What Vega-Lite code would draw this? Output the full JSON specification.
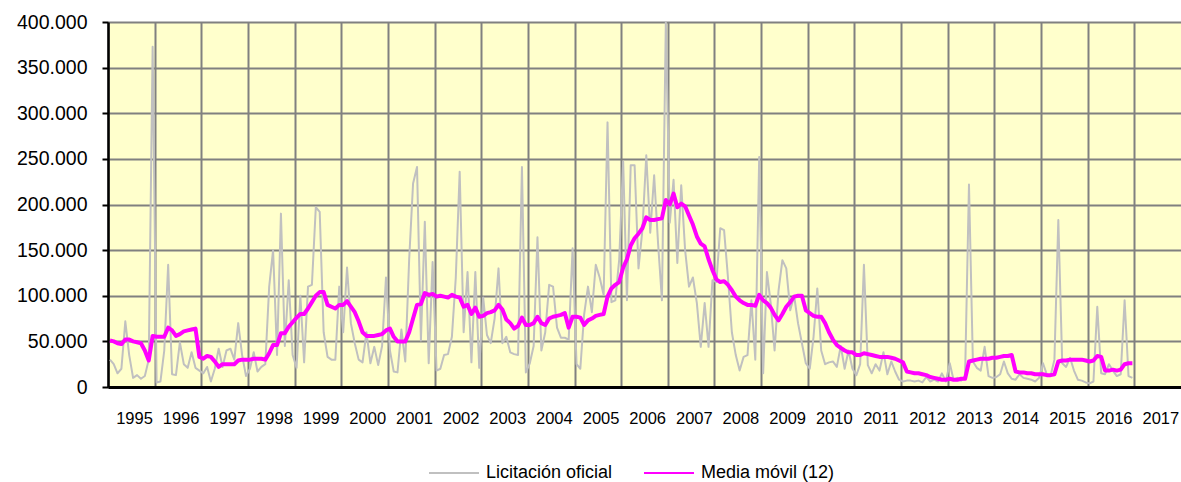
{
  "$schema": "https://vega.github.io/schema/vega-lite/v6.json",
  "width": 1073,
  "height": 365,
  "autosize": {"type": "none"},
  "padding": {"left": 108, "top": 22, "right": 0, "bottom": 95},
  "background": "white",
  "config": {
    "font": "Liberation Sans",
    "view": {"fill": "#FFFFCC", "stroke": null},
    "axis": {"gridColor": "#808080", "gridWidth": 2, "gridOpacity": 1, "labelColor": "#000000", "labelFont": "Liberation Sans"},
    "legend": {"labelFont": "Liberation Sans", "labelColor": "#000000", "symbolStrokeWidth": 2}
  },
  "data": {"values": [
    {"f":"1995-01","Licitación oficial":30000,"Media móvil (12)":51000},
    {"f":"1995-02","Licitación oficial":25000,"Media móvil (12)":50000},
    {"f":"1995-03","Licitación oficial":15000,"Media móvil (12)":48000},
    {"f":"1995-04","Licitación oficial":20000,"Media móvil (12)":47000},
    {"f":"1995-05","Licitación oficial":72000,"Media móvil (12)":52000},
    {"f":"1995-06","Licitación oficial":35000,"Media móvil (12)":52000},
    {"f":"1995-07","Licitación oficial":10000,"Media móvil (12)":50000},
    {"f":"1995-08","Licitación oficial":13000,"Media móvil (12)":49000},
    {"f":"1995-09","Licitación oficial":9000,"Media móvil (12)":48000},
    {"f":"1995-10","Licitación oficial":12000,"Media móvil (12)":40000},
    {"f":"1995-11","Licitación oficial":30000,"Media móvil (12)":29000},
    {"f":"1995-12","Licitación oficial":373000,"Media móvil (12)":56000},
    {"f":"1996-01","Licitación oficial":5000,"Media móvil (12)":55000},
    {"f":"1996-02","Licitación oficial":6000,"Media móvil (12)":55000},
    {"f":"1996-03","Licitación oficial":40000,"Media móvil (12)":55000},
    {"f":"1996-04","Licitación oficial":134000,"Media móvil (12)":65000},
    {"f":"1996-05","Licitación oficial":14000,"Media móvil (12)":62000},
    {"f":"1996-06","Licitación oficial":13000,"Media móvil (12)":56000},
    {"f":"1996-07","Licitación oficial":49000,"Media móvil (12)":58000},
    {"f":"1996-08","Licitación oficial":25000,"Media móvil (12)":61000},
    {"f":"1996-09","Licitación oficial":21000,"Media móvil (12)":62000},
    {"f":"1996-10","Licitación oficial":38000,"Media móvil (12)":63000},
    {"f":"1996-11","Licitación oficial":21000,"Media móvil (12)":64000},
    {"f":"1996-12","Licitación oficial":18000,"Media móvil (12)":33000},
    {"f":"1997-01","Licitación oficial":15000,"Media móvil (12)":31000},
    {"f":"1997-02","Licitación oficial":22000,"Media móvil (12)":34000},
    {"f":"1997-03","Licitación oficial":6000,"Media móvil (12)":33000},
    {"f":"1997-04","Licitación oficial":20000,"Media móvil (12)":28000},
    {"f":"1997-05","Licitación oficial":42000,"Media móvil (12)":22000},
    {"f":"1997-06","Licitación oficial":22000,"Media móvil (12)":25000},
    {"f":"1997-07","Licitación oficial":40000,"Media móvil (12)":25000},
    {"f":"1997-08","Licitación oficial":42000,"Media móvil (12)":25000},
    {"f":"1997-09","Licitación oficial":30000,"Media móvil (12)":25000},
    {"f":"1997-10","Licitación oficial":70000,"Media móvil (12)":29000},
    {"f":"1997-11","Licitación oficial":35000,"Media móvil (12)":30000},
    {"f":"1997-12","Licitación oficial":12000,"Media móvil (12)":30000},
    {"f":"1998-01","Licitación oficial":20000,"Media móvil (12)":30000},
    {"f":"1998-02","Licitación oficial":38000,"Media móvil (12)":31000},
    {"f":"1998-03","Licitación oficial":17000,"Media móvil (12)":31000},
    {"f":"1998-04","Licitación oficial":22000,"Media móvil (12)":31000},
    {"f":"1998-05","Licitación oficial":25000,"Media móvil (12)":30000},
    {"f":"1998-06","Licitación oficial":110000,"Media móvil (12)":37000},
    {"f":"1998-07","Licitación oficial":150000,"Media móvil (12)":46000},
    {"f":"1998-08","Licitación oficial":35000,"Media móvil (12)":46000},
    {"f":"1998-09","Licitación oficial":190000,"Media móvil (12)":59000},
    {"f":"1998-10","Licitación oficial":45000,"Media móvil (12)":59000},
    {"f":"1998-11","Licitación oficial":117000,"Media móvil (12)":66000},
    {"f":"1998-12","Licitación oficial":35000,"Media móvil (12)":71000},
    {"f":"1999-01","Licitación oficial":21000,"Media móvil (12)":76000},
    {"f":"1999-02","Licitación oficial":100000,"Media móvil (12)":80000},
    {"f":"1999-03","Licitación oficial":27000,"Media móvil (12)":80000},
    {"f":"1999-04","Licitación oficial":110000,"Media móvil (12)":86000},
    {"f":"1999-05","Licitación oficial":112000,"Media móvil (12)":93000},
    {"f":"1999-06","Licitación oficial":197000,"Media móvil (12)":100000},
    {"f":"1999-07","Licitación oficial":192000,"Media móvil (12)":104000},
    {"f":"1999-08","Licitación oficial":60000,"Media móvil (12)":104000},
    {"f":"1999-09","Licitación oficial":33000,"Media móvil (12)":90000},
    {"f":"1999-10","Licitación oficial":30000,"Media móvil (12)":88000},
    {"f":"1999-11","Licitación oficial":30000,"Media móvil (12)":86000},
    {"f":"1999-12","Licitación oficial":110000,"Media móvil (12)":90000},
    {"f":"2000-01","Licitación oficial":60000,"Media móvil (12)":90000},
    {"f":"2000-02","Licitación oficial":131000,"Media móvil (12)":94000},
    {"f":"2000-03","Licitación oficial":70000,"Media móvil (12)":88000},
    {"f":"2000-04","Licitación oficial":48000,"Media móvil (12)":82000},
    {"f":"2000-05","Licitación oficial":30000,"Media móvil (12)":72000},
    {"f":"2000-06","Licitación oficial":27000,"Media móvil (12)":60000},
    {"f":"2000-07","Licitación oficial":60000,"Media móvil (12)":56000},
    {"f":"2000-08","Licitación oficial":26000,"Media móvil (12)":56000},
    {"f":"2000-09","Licitación oficial":44000,"Media móvil (12)":56000},
    {"f":"2000-10","Licitación oficial":24000,"Media móvil (12)":57000},
    {"f":"2000-11","Licitación oficial":45000,"Media móvil (12)":58000},
    {"f":"2000-12","Licitación oficial":120000,"Media móvil (12)":62000},
    {"f":"2001-01","Licitación oficial":40000,"Media móvil (12)":64000},
    {"f":"2001-02","Licitación oficial":17000,"Media móvil (12)":55000},
    {"f":"2001-03","Licitación oficial":16000,"Media móvil (12)":50000},
    {"f":"2001-04","Licitación oficial":63000,"Media móvil (12)":50000},
    {"f":"2001-05","Licitación oficial":28000,"Media móvil (12)":50000},
    {"f":"2001-06","Licitación oficial":140000,"Media móvil (12)":60000},
    {"f":"2001-07","Licitación oficial":223000,"Media móvil (12)":75000},
    {"f":"2001-08","Licitación oficial":241000,"Media móvil (12)":90000},
    {"f":"2001-09","Licitación oficial":51000,"Media móvil (12)":91000},
    {"f":"2001-10","Licitación oficial":181000,"Media móvil (12)":103000},
    {"f":"2001-11","Licitación oficial":26000,"Media móvil (12)":101000},
    {"f":"2001-12","Licitación oficial":137000,"Media móvil (12)":102000},
    {"f":"2002-01","Licitación oficial":18000,"Media móvil (12)":99000},
    {"f":"2002-02","Licitación oficial":20000,"Media móvil (12)":100000},
    {"f":"2002-03","Licitación oficial":35000,"Media móvil (12)":99000},
    {"f":"2002-04","Licitación oficial":36000,"Media móvil (12)":98000},
    {"f":"2002-05","Licitación oficial":55000,"Media móvil (12)":101000},
    {"f":"2002-06","Licitación oficial":120000,"Media móvil (12)":99000},
    {"f":"2002-07","Licitación oficial":236000,"Media móvil (12)":98000},
    {"f":"2002-08","Licitación oficial":60000,"Media móvil (12)":88000},
    {"f":"2002-09","Licitación oficial":126000,"Media móvil (12)":90000},
    {"f":"2002-10","Licitación oficial":27000,"Media móvil (12)":80000},
    {"f":"2002-11","Licitación oficial":126000,"Media móvil (12)":87000},
    {"f":"2002-12","Licitación oficial":21000,"Media móvil (12)":77000},
    {"f":"2003-01","Licitación oficial":98000,"Media móvil (12)":78000},
    {"f":"2003-02","Licitación oficial":57000,"Media móvil (12)":81000},
    {"f":"2003-03","Licitación oficial":48000,"Media móvil (12)":82000},
    {"f":"2003-04","Licitación oficial":75000,"Media móvil (12)":84000},
    {"f":"2003-05","Licitación oficial":130000,"Media móvil (12)":90000},
    {"f":"2003-06","Licitación oficial":48000,"Media móvil (12)":85000},
    {"f":"2003-07","Licitación oficial":55000,"Media móvil (12)":74000},
    {"f":"2003-08","Licitación oficial":38000,"Media móvil (12)":70000},
    {"f":"2003-09","Licitación oficial":36000,"Media móvil (12)":64000},
    {"f":"2003-10","Licitación oficial":35000,"Media móvil (12)":67000},
    {"f":"2003-11","Licitación oficial":241000,"Media móvil (12)":76000},
    {"f":"2003-12","Licitación oficial":16000,"Media móvil (12)":68000},
    {"f":"2004-01","Licitación oficial":26000,"Media móvil (12)":68000},
    {"f":"2004-02","Licitación oficial":45000,"Media móvil (12)":70000},
    {"f":"2004-03","Licitación oficial":164000,"Media móvil (12)":77000},
    {"f":"2004-04","Licitación oficial":40000,"Media móvil (12)":70000},
    {"f":"2004-05","Licitación oficial":60000,"Media móvil (12)":68000},
    {"f":"2004-06","Licitación oficial":112000,"Media móvil (12)":75000},
    {"f":"2004-07","Licitación oficial":110000,"Media móvil (12)":77000},
    {"f":"2004-08","Licitación oficial":65000,"Media móvil (12)":78000},
    {"f":"2004-09","Licitación oficial":54000,"Media móvil (12)":79000},
    {"f":"2004-10","Licitación oficial":54000,"Media móvil (12)":81000},
    {"f":"2004-11","Licitación oficial":52000,"Media móvil (12)":65000},
    {"f":"2004-12","Licitación oficial":152000,"Media móvil (12)":77000},
    {"f":"2005-01","Licitación oficial":25000,"Media móvil (12)":77000},
    {"f":"2005-02","Licitación oficial":20000,"Media móvil (12)":76000},
    {"f":"2005-03","Licitación oficial":79000,"Media móvil (12)":68000},
    {"f":"2005-04","Licitación oficial":110000,"Media móvil (12)":73000},
    {"f":"2005-05","Licitación oficial":82000,"Media móvil (12)":75000},
    {"f":"2005-06","Licitación oficial":134000,"Media móvil (12)":78000},
    {"f":"2005-07","Licitación oficial":120000,"Media móvil (12)":79000},
    {"f":"2005-08","Licitación oficial":101000,"Media móvil (12)":80000},
    {"f":"2005-09","Licitación oficial":290000,"Media móvil (12)":99000},
    {"f":"2005-10","Licitación oficial":93000,"Media móvil (12)":108000},
    {"f":"2005-11","Licitación oficial":95000,"Media móvil (12)":112000},
    {"f":"2005-12","Licitación oficial":140000,"Media móvil (12)":115000},
    {"f":"2006-01","Licitación oficial":247000,"Media móvil (12)":131000},
    {"f":"2006-02","Licitación oficial":95000,"Media móvil (12)":140000},
    {"f":"2006-03","Licitación oficial":243000,"Media móvil (12)":155000},
    {"f":"2006-04","Licitación oficial":243000,"Media móvil (12)":163000},
    {"f":"2006-05","Licitación oficial":130000,"Media móvil (12)":168000},
    {"f":"2006-06","Licitación oficial":172000,"Media móvil (12)":174000},
    {"f":"2006-07","Licitación oficial":254000,"Media móvil (12)":186000},
    {"f":"2006-08","Licitación oficial":169000,"Media móvil (12)":183000},
    {"f":"2006-09","Licitación oficial":232000,"Media móvil (12)":183000},
    {"f":"2006-10","Licitación oficial":158000,"Media móvil (12)":184000},
    {"f":"2006-11","Licitación oficial":95000,"Media móvil (12)":185000},
    {"f":"2006-12","Licitación oficial":400000,"Media móvil (12)":205000},
    {"f":"2007-01","Licitación oficial":180000,"Media móvil (12)":200000},
    {"f":"2007-02","Licitación oficial":227000,"Media móvil (12)":212000},
    {"f":"2007-03","Licitación oficial":136000,"Media móvil (12)":197000},
    {"f":"2007-04","Licitación oficial":221000,"Media móvil (12)":201000},
    {"f":"2007-05","Licitación oficial":150000,"Media móvil (12)":198000},
    {"f":"2007-06","Licitación oficial":110000,"Media móvil (12)":188000},
    {"f":"2007-07","Licitación oficial":120000,"Media móvil (12)":178000},
    {"f":"2007-08","Licitación oficial":92000,"Media móvil (12)":165000},
    {"f":"2007-09","Licitación oficial":44000,"Media móvil (12)":157000},
    {"f":"2007-10","Licitación oficial":92000,"Media móvil (12)":154000},
    {"f":"2007-11","Licitación oficial":44000,"Media móvil (12)":140000},
    {"f":"2007-12","Licitación oficial":117000,"Media móvil (12)":128000},
    {"f":"2008-01","Licitación oficial":115000,"Media móvil (12)":118000},
    {"f":"2008-02","Licitación oficial":174000,"Media móvil (12)":115000},
    {"f":"2008-03","Licitación oficial":172000,"Media móvil (12)":116000},
    {"f":"2008-04","Licitación oficial":120000,"Media móvil (12)":112000},
    {"f":"2008-05","Licitación oficial":60000,"Media móvil (12)":106000},
    {"f":"2008-06","Licitación oficial":35000,"Media móvil (12)":99000},
    {"f":"2008-07","Licitación oficial":18000,"Media móvil (12)":95000},
    {"f":"2008-08","Licitación oficial":33000,"Media móvil (12)":92000},
    {"f":"2008-09","Licitación oficial":35000,"Media móvil (12)":90000},
    {"f":"2008-10","Licitación oficial":95000,"Media móvil (12)":90000},
    {"f":"2008-11","Licitación oficial":30000,"Media móvil (12)":89000},
    {"f":"2008-12","Licitación oficial":252000,"Media móvil (12)":101000},
    {"f":"2009-01","Licitación oficial":15000,"Media móvil (12)":95000},
    {"f":"2009-02","Licitación oficial":126000,"Media móvil (12)":92000},
    {"f":"2009-03","Licitación oficial":92000,"Media móvil (12)":87000},
    {"f":"2009-04","Licitación oficial":40000,"Media móvil (12)":79000},
    {"f":"2009-05","Licitación oficial":105000,"Media móvil (12)":73000},
    {"f":"2009-06","Licitación oficial":139000,"Media móvil (12)":80000},
    {"f":"2009-07","Licitación oficial":130000,"Media móvil (12)":88000},
    {"f":"2009-08","Licitación oficial":84000,"Media móvil (12)":93000},
    {"f":"2009-09","Licitación oficial":100000,"Media móvil (12)":99000},
    {"f":"2009-10","Licitación oficial":70000,"Media móvil (12)":100000},
    {"f":"2009-11","Licitación oficial":48000,"Media móvil (12)":100000},
    {"f":"2009-12","Licitación oficial":26000,"Media móvil (12)":84000},
    {"f":"2010-01","Licitación oficial":20000,"Media móvil (12)":81000},
    {"f":"2010-02","Licitación oficial":55000,"Media móvil (12)":78000},
    {"f":"2010-03","Licitación oficial":108000,"Media móvil (12)":77000},
    {"f":"2010-04","Licitación oficial":40000,"Media móvil (12)":77000},
    {"f":"2010-05","Licitación oficial":25000,"Media móvil (12)":70000},
    {"f":"2010-06","Licitación oficial":27000,"Media móvil (12)":60000},
    {"f":"2010-07","Licitación oficial":28000,"Media móvil (12)":52000},
    {"f":"2010-08","Licitación oficial":22000,"Media móvil (12)":46000},
    {"f":"2010-09","Licitación oficial":45000,"Media móvil (12)":43000},
    {"f":"2010-10","Licitación oficial":20000,"Media móvil (12)":40000},
    {"f":"2010-11","Licitación oficial":40000,"Media móvil (12)":38000},
    {"f":"2010-12","Licitación oficial":20000,"Media móvil (12)":38000},
    {"f":"2011-01","Licitación oficial":13000,"Media móvil (12)":35000},
    {"f":"2011-02","Licitación oficial":25000,"Media móvil (12)":35000},
    {"f":"2011-03","Licitación oficial":134000,"Media móvil (12)":37000},
    {"f":"2011-04","Licitación oficial":24000,"Media móvil (12)":36000},
    {"f":"2011-05","Licitación oficial":15000,"Media móvil (12)":35000},
    {"f":"2011-06","Licitación oficial":25000,"Media móvil (12)":34000},
    {"f":"2011-07","Licitación oficial":18000,"Media móvil (12)":33000},
    {"f":"2011-08","Licitación oficial":38000,"Media móvil (12)":33000},
    {"f":"2011-09","Licitación oficial":14000,"Media móvil (12)":33000},
    {"f":"2011-10","Licitación oficial":28000,"Media móvil (12)":32000},
    {"f":"2011-11","Licitación oficial":17000,"Media móvil (12)":31000},
    {"f":"2011-12","Licitación oficial":8000,"Media móvil (12)":29000},
    {"f":"2012-01","Licitación oficial":6000,"Media móvil (12)":27000},
    {"f":"2012-02","Licitación oficial":7000,"Media móvil (12)":17000},
    {"f":"2012-03","Licitación oficial":7000,"Media móvil (12)":16000},
    {"f":"2012-04","Licitación oficial":6000,"Media móvil (12)":15000},
    {"f":"2012-05","Licitación oficial":7000,"Media móvil (12)":15000},
    {"f":"2012-06","Licitación oficial":5000,"Media móvil (12)":14000},
    {"f":"2012-07","Licitación oficial":11000,"Media móvil (12)":13000},
    {"f":"2012-08","Licitación oficial":6000,"Media móvil (12)":11000},
    {"f":"2012-09","Licitación oficial":8000,"Media móvil (12)":10000},
    {"f":"2012-10","Licitación oficial":6000,"Media móvil (12)":9000},
    {"f":"2012-11","Licitación oficial":15000,"Media móvil (12)":8000},
    {"f":"2012-12","Licitación oficial":6000,"Media móvil (12)":8000},
    {"f":"2013-01","Licitación oficial":26000,"Media móvil (12)":9000},
    {"f":"2013-02","Licitación oficial":8000,"Media móvil (12)":8000},
    {"f":"2013-03","Licitación oficial":10000,"Media móvil (12)":8000},
    {"f":"2013-04","Licitación oficial":7000,"Media móvil (12)":9000},
    {"f":"2013-05","Licitación oficial":12000,"Media móvil (12)":9000},
    {"f":"2013-06","Licitación oficial":222000,"Media móvil (12)":28000},
    {"f":"2013-07","Licitación oficial":28000,"Media móvil (12)":29000},
    {"f":"2013-08","Licitación oficial":21000,"Media móvil (12)":30000},
    {"f":"2013-09","Licitación oficial":18000,"Media móvil (12)":31000},
    {"f":"2013-10","Licitación oficial":44000,"Media móvil (12)":31000},
    {"f":"2013-11","Licitación oficial":12000,"Media móvil (12)":31000},
    {"f":"2013-12","Licitación oficial":10000,"Media móvil (12)":32000},
    {"f":"2014-01","Licitación oficial":11000,"Media móvil (12)":32000},
    {"f":"2014-02","Licitación oficial":14000,"Media móvil (12)":33000},
    {"f":"2014-03","Licitación oficial":28000,"Media móvil (12)":34000},
    {"f":"2014-04","Licitación oficial":15000,"Media móvil (12)":34000},
    {"f":"2014-05","Licitación oficial":9000,"Media móvil (12)":35000},
    {"f":"2014-06","Licitación oficial":8000,"Media móvil (12)":17000},
    {"f":"2014-07","Licitación oficial":14000,"Media móvil (12)":16000},
    {"f":"2014-08","Licitación oficial":10000,"Media móvil (12)":16000},
    {"f":"2014-09","Licitación oficial":9000,"Media móvil (12)":15000},
    {"f":"2014-10","Licitación oficial":8000,"Media móvil (12)":15000},
    {"f":"2014-11","Licitación oficial":6000,"Media móvil (12)":14000},
    {"f":"2014-12","Licitación oficial":10000,"Media móvil (12)":14000},
    {"f":"2015-01","Licitación oficial":26000,"Media móvil (12)":14000},
    {"f":"2015-02","Licitación oficial":14000,"Media móvil (12)":13000},
    {"f":"2015-03","Licitación oficial":12000,"Media móvil (12)":13000},
    {"f":"2015-04","Licitación oficial":30000,"Media móvil (12)":14000},
    {"f":"2015-05","Licitación oficial":183000,"Media móvil (12)":28000},
    {"f":"2015-06","Licitación oficial":26000,"Media móvil (12)":29000},
    {"f":"2015-07","Licitación oficial":22000,"Media móvil (12)":29000},
    {"f":"2015-08","Licitación oficial":32000,"Media móvil (12)":30000},
    {"f":"2015-09","Licitación oficial":18000,"Media móvil (12)":30000},
    {"f":"2015-10","Licitación oficial":8000,"Media móvil (12)":30000},
    {"f":"2015-11","Licitación oficial":7000,"Media móvil (12)":30000},
    {"f":"2015-12","Licitación oficial":5000,"Media móvil (12)":29000},
    {"f":"2016-01","Licitación oficial":4000,"Media móvil (12)":28000},
    {"f":"2016-02","Licitación oficial":6000,"Media móvil (12)":29000},
    {"f":"2016-03","Licitación oficial":88000,"Media móvil (12)":34000},
    {"f":"2016-04","Licitación oficial":15000,"Media móvil (12)":33000},
    {"f":"2016-05","Licitación oficial":14000,"Media móvil (12)":18000},
    {"f":"2016-06","Licitación oficial":25000,"Media móvil (12)":18000},
    {"f":"2016-07","Licitación oficial":18000,"Media móvil (12)":19000},
    {"f":"2016-08","Licitación oficial":12000,"Media móvil (12)":18000},
    {"f":"2016-09","Licitación oficial":14000,"Media móvil (12)":19000},
    {"f":"2016-10","Licitación oficial":95000,"Media móvil (12)":25000},
    {"f":"2016-11","Licitación oficial":12000,"Media móvil (12)":26000},
    {"f":"2016-12","Licitación oficial":10000,"Media móvil (12)":26000}
  ]},
  "transform": [{"fold": ["Licitación oficial", "Media móvil (12)"], "as": ["serie", "valor"]}],
  "encoding": {
    "x": {
      "field": "f", "timeUnit": "utcyearmonth", "type": "temporal", "bandPosition": 0.5, "title": null,
      "scale": {"type": "utc", "domain": [{"year": 1995, "month": 1, "date": 1, "utc": true}, {"year": 2018, "month": 1, "date": 1, "utc": true}]},
      "axis": {
        "values": [
          {"year": 1995, "month": 1, "date": 1, "utc": true}, {"year": 1996, "month": 1, "date": 1, "utc": true},
          {"year": 1997, "month": 1, "date": 1, "utc": true}, {"year": 1998, "month": 1, "date": 1, "utc": true},
          {"year": 1999, "month": 1, "date": 1, "utc": true}, {"year": 2000, "month": 1, "date": 1, "utc": true},
          {"year": 2001, "month": 1, "date": 1, "utc": true}, {"year": 2002, "month": 1, "date": 1, "utc": true},
          {"year": 2003, "month": 1, "date": 1, "utc": true}, {"year": 2004, "month": 1, "date": 1, "utc": true},
          {"year": 2005, "month": 1, "date": 1, "utc": true}, {"year": 2006, "month": 1, "date": 1, "utc": true},
          {"year": 2007, "month": 1, "date": 1, "utc": true}, {"year": 2008, "month": 1, "date": 1, "utc": true},
          {"year": 2009, "month": 1, "date": 1, "utc": true}, {"year": 2010, "month": 1, "date": 1, "utc": true},
          {"year": 2011, "month": 1, "date": 1, "utc": true}, {"year": 2012, "month": 1, "date": 1, "utc": true},
          {"year": 2013, "month": 1, "date": 1, "utc": true}, {"year": 2014, "month": 1, "date": 1, "utc": true},
          {"year": 2015, "month": 1, "date": 1, "utc": true}, {"year": 2016, "month": 1, "date": 1, "utc": true},
          {"year": 2017, "month": 1, "date": 1, "utc": true}
        ],
        "labelExpr": "utcFormat(datum.value, '%Y')",
        "labelOffset": 26, "labelPadding": 23, "ticks": false,
        "labelFontSize": 16.5, "labelAlign": "center", "labelFlush": false, "labelOverlap": false, "labelBound": false,
        "grid": true, "domainColor": "#000000", "domainWidth": 3
      }
    },
    "y": {
      "field": "valor", "type": "quantitative", "title": null,
      "scale": {"domain": [0, 400000], "nice": false},
      "axis": {
        "values": [0, 50000, 100000, 150000, 200000, 250000, 300000, 350000, 400000],
        "labelExpr": "replace(format(datum.value, ','), ',', '.')",
        "labelFontSize": 19.5, "labelPadding": 15, "tickSize": 6, "tickColor": "#000000", "tickWidth": 2,
        "domainColor": "#000000", "domainWidth": 2.5, "grid": true
      }
    },
    "color": {
      "field": "serie", "type": "nominal",
      "scale": {"domain": ["Licitación oficial", "Media móvil (12)"], "range": ["#C0C0C0", "#FF00FF"]},
      "legend": {
        "title": null, "orient": "none", "legendX": 320, "legendY": 425, "direction": "horizontal",
        "symbolType": "stroke", "symbolSize": 2500, "symbolStrokeWidth": 2,
        "labelFontSize": 18, "labelOffset": 6, "columnPadding": 27, "padding": 0
      }
    }
  },
  "layer": [
    {
      "transform": [{"filter": "datum.serie == 'Licitación oficial'"}],
      "mark": {"type": "line", "interpolate": "linear", "strokeJoin": "round", "strokeWidth": 2}
    },
    {
      "transform": [{"filter": "datum.serie == 'Media móvil (12)'"}],
      "mark": {"type": "line", "interpolate": "linear", "strokeJoin": "round", "strokeWidth": 4}
    }
  ]
}
